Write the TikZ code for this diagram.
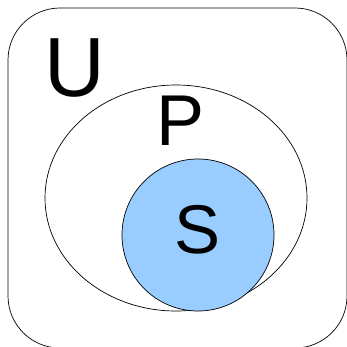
\documentclass[tikz,border=0pt]{standalone}
\usepackage{fontspec}
\setmainfont{Liberation Sans}
\usetikzlibrary{positioning}
\definecolor{setblue}{RGB}{153,204,255}

\begin{document}
\begin{tikzpicture}[x=1pt, y=-1pt,
      setline/.style={draw=black, line width=0.7pt},
      setlabel/.style={inner sep=0pt, anchor=center}
    ]
      \useasboundingbox (0,0) rectangle (346,347);
      % universe
      \draw[setline, rounded corners=52pt] (8,8) rectangle (347,348);
      % P and S
      \draw[setline] (176,198) ellipse [x radius=131, y radius=113];
      \draw[setline, fill=setblue] (198,235) circle [radius=76];

      \node[setlabel] (labelU) at (75,68) {\fontsize{84}{84}\selectfont U};
      \node[setlabel] (labelP) at (181,121) {\fontsize{72}{72}\selectfont P};
      \node[setlabel] (labelS) at (198,230) {\fontsize{69}{69}\selectfont S};
    \end{tikzpicture}
\end{document}
